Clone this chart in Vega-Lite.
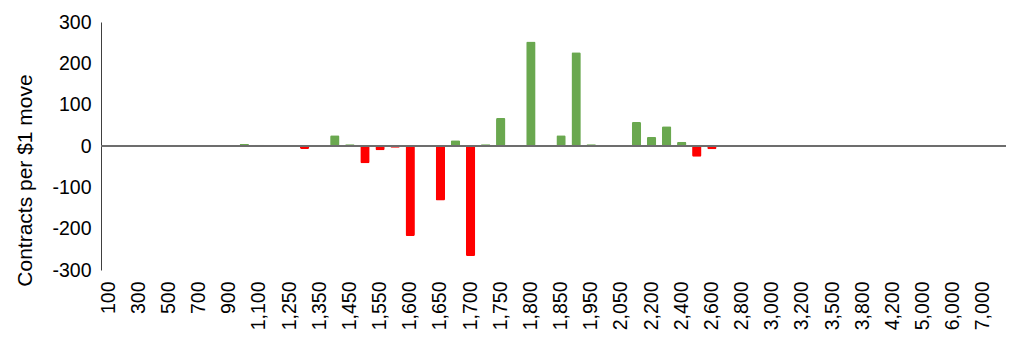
{
  "$schema": "https://vega.github.io/schema/vega-lite/v6.json",
  "width": 905,
  "height": 248,
  "autosize": {"type": "none"},
  "padding": {"left": 101, "top": 22, "right": 18, "bottom": 89},
  "background": "white",
  "config": {
    "view": {"stroke": null},
    "font": "Liberation Sans",
    "axis": {"labelFont": "Liberation Sans", "titleFont": "Liberation Sans", "labelColor": "#000000", "titleColor": "#000000", "grid": false}
  },
  "data": {
    "values": [
      {"strike": "100", "value": 0},
      {"strike": "200", "value": 0},
      {"strike": "300", "value": 0},
      {"strike": "400", "value": 0},
      {"strike": "500", "value": 0},
      {"strike": "600", "value": 0},
      {"strike": "700", "value": 0},
      {"strike": "800", "value": 0},
      {"strike": "900", "value": 0},
      {"strike": "1,000", "value": 5},
      {"strike": "1,100", "value": 3},
      {"strike": "1,200", "value": 1},
      {"strike": "1,250", "value": 0},
      {"strike": "1,300", "value": -7},
      {"strike": "1,350", "value": 0},
      {"strike": "1,400", "value": 26},
      {"strike": "1,450", "value": 4},
      {"strike": "1,500", "value": -42},
      {"strike": "1,550", "value": -10},
      {"strike": "1,575", "value": -4},
      {"strike": "1,600", "value": -218},
      {"strike": "1,625", "value": 0},
      {"strike": "1,650", "value": -132},
      {"strike": "1,675", "value": 14},
      {"strike": "1,700", "value": -266},
      {"strike": "1,725", "value": 4},
      {"strike": "1,750", "value": 68},
      {"strike": "1,775", "value": 0},
      {"strike": "1,800", "value": 253},
      {"strike": "1,825", "value": 0},
      {"strike": "1,850", "value": 26},
      {"strike": "1,900", "value": 227},
      {"strike": "1,950", "value": 4},
      {"strike": "2,000", "value": 0},
      {"strike": "2,050", "value": 1.5},
      {"strike": "2,100", "value": 58},
      {"strike": "2,200", "value": 22},
      {"strike": "2,300", "value": 48},
      {"strike": "2,400", "value": 10},
      {"strike": "2,500", "value": -26},
      {"strike": "2,600", "value": -8},
      {"strike": "2,700", "value": 0},
      {"strike": "2,800", "value": 0},
      {"strike": "2,900", "value": 0},
      {"strike": "3,000", "value": 0},
      {"strike": "3,100", "value": 0},
      {"strike": "3,200", "value": 0},
      {"strike": "3,300", "value": 0},
      {"strike": "3,500", "value": 1},
      {"strike": "3,600", "value": 0},
      {"strike": "3,800", "value": 0},
      {"strike": "4,000", "value": 0},
      {"strike": "4,200", "value": 0},
      {"strike": "4,500", "value": 1},
      {"strike": "5,000", "value": 0},
      {"strike": "5,500", "value": 0},
      {"strike": "6,000", "value": 0},
      {"strike": "6,500", "value": 0},
      {"strike": "7,000", "value": 0},
      {"strike": "8,000", "value": 0}
    ]
  },
  "layer": [
    {
      "mark": {"type": "bar", "cornerRadius": 1.5},
      "encoding": {
        "x": {
          "field": "strike",
          "type": "nominal",
          "sort": null,
          "scale": {"paddingInner": 0.38, "paddingOuter": 0.19},
          "axis": {
            "title": null,
            "orient": "bottom",
            "domain": false,
            "ticks": false,
            "labelAngle": -90,
            "labelFontSize": 19.5,
            "labelPadding": 11,
            "values": ["100", "300", "500", "700", "900", "1,100", "1,250", "1,350", "1,450", "1,550", "1,600", "1,650", "1,700", "1,750", "1,800", "1,850", "1,950", "2,050", "2,200", "2,400", "2,600", "2,800", "3,000", "3,200", "3,500", "3,800", "4,200", "5,000", "6,000", "7,000"]
          }
        },
        "y": {
          "field": "value",
          "type": "quantitative",
          "scale": {"domain": [-300, 300], "nice": false},
          "axis": {
            "title": "Contracts per $1 move",
            "titleFontSize": 21,
            "titleFontWeight": "normal",
            "titleX": -70,
            "titleY": 158,
            "titleAngle": 270,
            "titleAlign": "center",
            "titleBaseline": "alphabetic",
            "values": [-300, -200, -100, 0, 100, 200, 300],
            "labelExpr": "'' + datum.value",
            "ticks": false,
            "domain": true,
            "domainColor": "#404040",
            "labelFontSize": 19.5,
            "labelPadding": 10
          }
        },
        "color": {
          "condition": {"test": "datum.value < 0", "value": "#FF0000"},
          "value": "#6AA84F"
        }
      }
    },
    {
      "mark": {"type": "rule", "color": "#6e6e6e", "strokeWidth": 1.3},
      "encoding": {"y": {"datum": 0, "type": "quantitative"}}
    }
  ]
}
